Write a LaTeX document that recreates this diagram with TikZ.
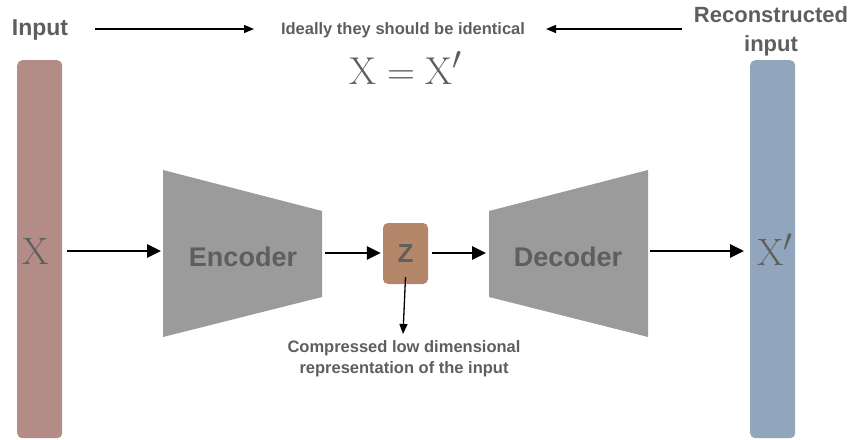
\documentclass[tikz,border=0pt]{standalone}
\usepackage{fontspec}
\setsansfont{Liberation Sans}
\usetikzlibrary{arrows.meta}
\definecolor{inbar}{HTML}{B48C87}
\definecolor{outbar}{HTML}{91A5BD}
\definecolor{block}{HTML}{9B9B9B}
\definecolor{latent}{HTML}{B5876A}
\definecolor{txt}{HTML}{5E5E5E}
\tikzset{
  bar/.style={rounded corners=5pt, minimum width=45pt, minimum height=378pt, inner sep=0pt},
  label/.style={font=\sffamily\bfseries, text=txt, align=center, inner sep=0pt},
  mathlabel/.style={text=txt, inner sep=0pt, font=\Huge},
  mainarrow/.style={-{Triangle[length=14pt,width=13pt]}, line width=2.6pt},
  thinarrow/.style={-{Triangle[length=10pt,width=8pt]}, line width=1.3pt},
}
\begin{document}
\begin{tikzpicture}[x=1pt,y=-1pt]
\useasboundingbox (0,0) rectangle (853,439);
% input and reconstructed bars
\node[bar, fill=inbar, anchor=north west] (xin) at (17,60) {};
\node[bar, fill=outbar, anchor=north west] (xout) at (750,60) {};
\node[mathlabel] (xsym) at (36,251) {\scalebox{1.53}{$\mathrm{X}$}};
\node[mathlabel] (xpsym) at (775,250) {\scalebox{1.53}{$\mathrm{X}'$}};
% encoder and decoder trapezoids
\fill[block] (163,170) -- (322,211) -- (322,297) -- (163,337) -- cycle;
\fill[block] (489,211) -- (648,170) -- (648,337) -- (489,297) -- cycle;
\coordinate (encL) at (163,251);
\coordinate (encR) at (322,253);
\coordinate (decL) at (489,253);
\coordinate (decR) at (648,251);
\node[label, font=\fontsize{27}{32}\sffamily\bfseries] (enc) at (243,257) {Encoder};
\node[label, font=\fontsize{27}{32}\sffamily\bfseries] (dec) at (568,257) {Decoder};
% latent code
\node[fill=latent, rounded corners=5pt, minimum width=45pt, minimum height=61pt, inner sep=0pt,
      font=\fontsize{26}{30}\sffamily\bfseries, text=txt] (z) at (405.5,253.5) {Z};
% main flow
\draw[mainarrow] (xin.east |- 0,251) ++(5,0) -- ([xshift=-2pt]encL);
\draw[mainarrow] ([xshift=3pt]encR) -- ([xshift=-2pt]z.west |- encR);
\draw[mainarrow] ([xshift=4pt]z.east |- decL) -- ([xshift=-3pt]decL);
\draw[mainarrow] ([xshift=2pt]decR) -- ([xshift=-6pt]xout.west |- decR);
% latent description
\node[label, font=\fontsize{16.5}{21}\sffamily\bfseries] (desc) at (404,359) {Compressed low dimensional\\representation of the input};
\coordinate (descTop) at (403,334);
\draw[thinarrow] ([yshift=7pt]z.south) -- (descTop);
% top labels
\node[label, font=\fontsize{23}{27}\sffamily\bfseries] (inlab) at (40,30) {Input};
\node[label, font=\fontsize{22}{29}\sffamily\bfseries] (outlab) at (771,31) {Reconstructed\\input};
\node[label, font=\fontsize{16.5}{20}\sffamily\bfseries] (ideal) at (403,30) {Ideally they should be identical};
\node[mathlabel] (eq) at (406,68) {\scalebox{1.56}{$\mathrm{X}=\mathrm{X}'$}};
\coordinate (la) at (95,29);
\coordinate (lb) at (254,29);
\coordinate (ra) at (682,29);
\coordinate (rb) at (546,29);
\draw[thinarrow] (la) -- (lb);
\draw[thinarrow] (ra) -- (rb);
\end{tikzpicture}
\end{document}
